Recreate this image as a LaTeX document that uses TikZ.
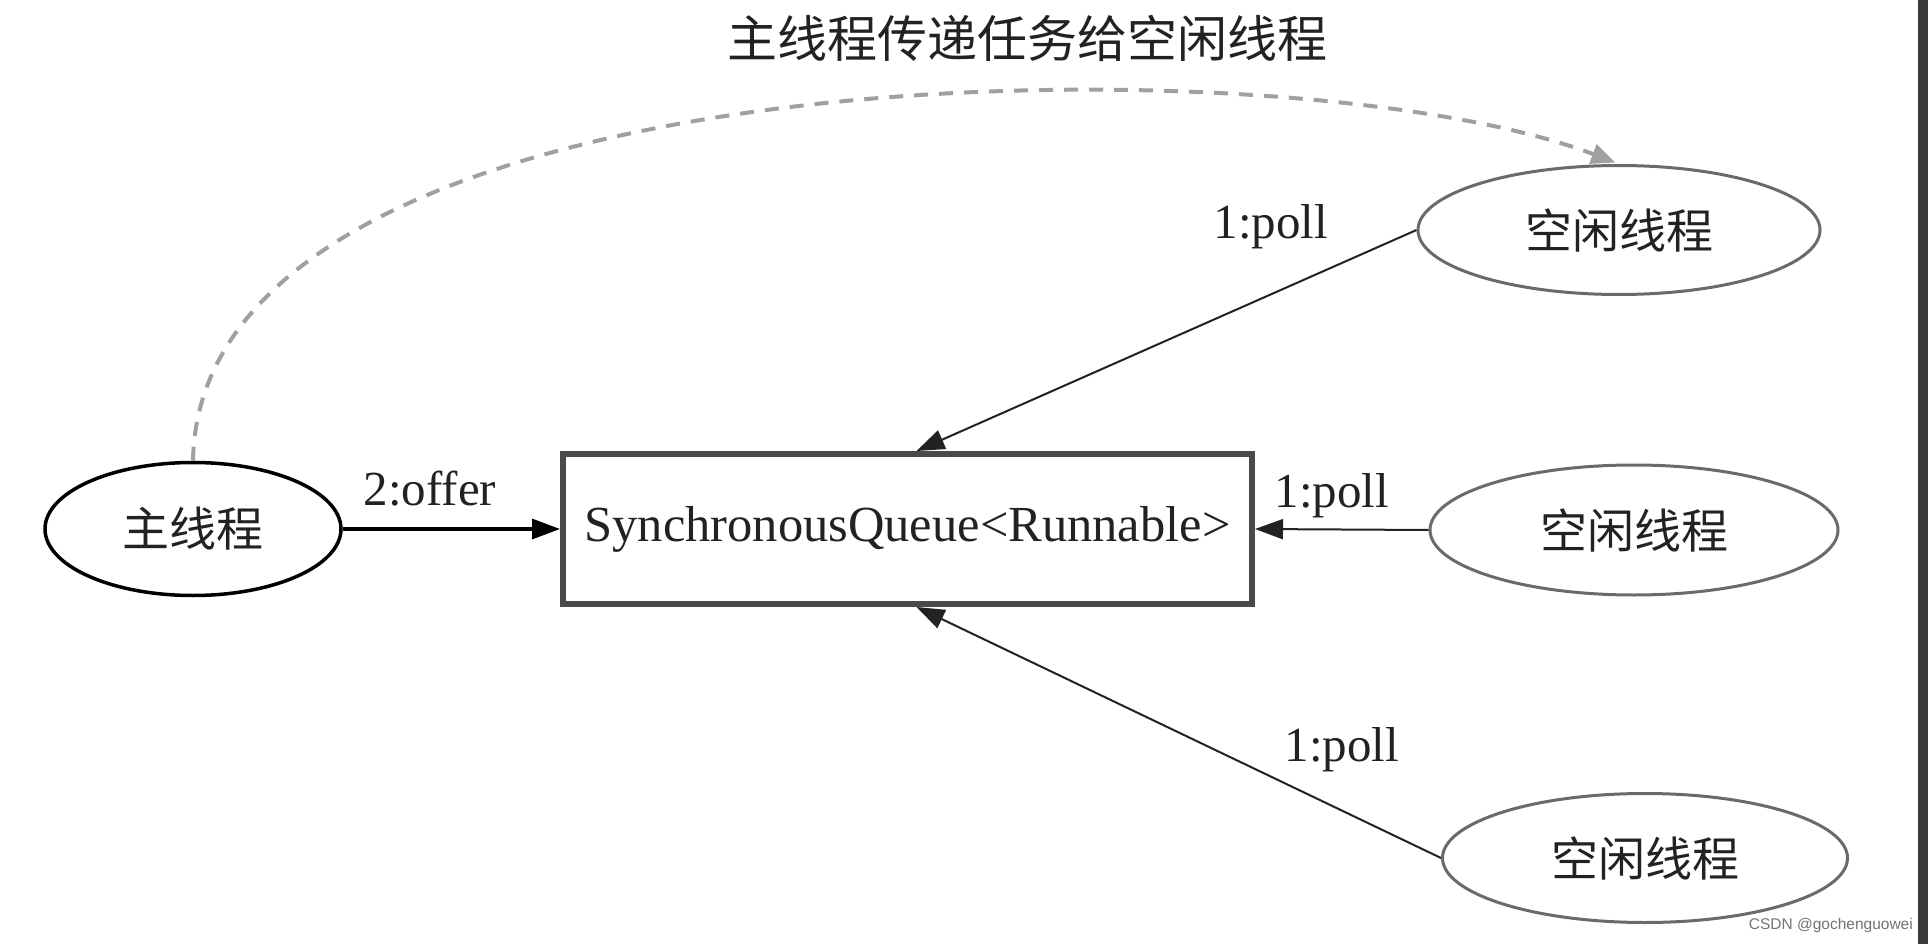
\documentclass[tikz,border=0pt]{standalone}
\usepackage{fontspec}
\setmainfont{Liberation Serif}
\newfontfamily\cjk{Noto Sans CJK SC}
\newfontfamily\wmfont{Liberation Sans}
\usetikzlibrary{shapes.geometric,arrows.meta}
\definecolor{ringgray}{HTML}{6A6A6A}
\definecolor{boxgray}{HTML}{4A4A4A}
\definecolor{dashgray}{HTML}{A0A0A0}
\definecolor{inkdark}{HTML}{222222}
\begin{document}
\begin{tikzpicture}[x=1pt,y=-1pt,
  cjktext/.style={font=\cjk\fontsize{47}{47}\selectfont, text=inkdark},
  thread/.style={ellipse, draw=ringgray, line width=3pt, inner sep=0pt, cjktext},
  mainthread/.style={ellipse, draw=black, line width=3.5pt, inner sep=0pt, cjktext},
  queuebox/.style={rectangle, draw=boxgray, line width=6pt, inner sep=0pt,
     font=\fontsize{50.5}{50.5}\selectfont, text=inkdark},
  lbl/.style={font=\fontsize{49}{49}\selectfont, text=inkdark, inner sep=0pt},
  offerarrow/.style={draw=black, line width=3.2pt, -{Triangle[length=28pt,width=20pt]}},
  pollarrow/.style={draw=inkdark, line width=2pt, -{Triangle[length=28pt,width=20pt]}},
  passarrow/.style={draw=dashgray, line width=4pt, dash pattern=on 14pt off 11pt,
     -{Triangle[length=24pt,width=20pt]}}
]
\useasboundingbox (0,0) rectangle (1928,944);
\fill[white] (0,0) rectangle (1928,944);
\fill[boxgray!80!black] (1918,0) rectangle (1928,944);

\node[mainthread, minimum width=296pt, minimum height=133pt] (main) at (193,529) {主线程};
\node[queuebox, minimum width=689pt, minimum height=150pt] (queue) at (907.5,529) {SynchronousQueue<Runnable>};
\node[thread, minimum width=402pt, minimum height=129pt] (idleA) at (1619,230) {空闲线程};
\node[thread, minimum width=408pt, minimum height=130pt] (idleB) at (1634,530) {空闲线程};
\node[thread, minimum width=405pt, minimum height=129pt] (idleC) at (1645,858) {空闲线程};

\node[cjktext, font=\cjk\fontsize{50}{50}\selectfont, inner sep=0pt] (title) at (1027,38) {主线程传递任务给空闲线程};

\draw[offerarrow] (main.east) -- (queue.west);
\draw[pollarrow] (idleA.west) -- ([xshift=9pt]queue.north);
\draw[pollarrow] (idleB.west) -- (queue.east);
\draw[pollarrow] (idleC.west) -- ([xshift=9pt]queue.south);

\node[lbl] (offerlbl) at (430,489) {2:offer};
\node[lbl] (pollA) at (1271,227) {1:poll};
\node[lbl] (pollB) at (1332,496) {1:poll};
\node[lbl] (pollC) at (1342,750) {1:poll};

\draw[passarrow, shorten >=4pt] (main.north) .. controls (200,45) and (1290,38) .. (idleA.north);

\node[font=\wmfont\fontsize{15.5}{15.5}\selectfont, text=black!55, inner sep=0pt, anchor=east] (wm) at (1913,925) {CSDN @gochenguowei};
\end{tikzpicture}
\end{document}
